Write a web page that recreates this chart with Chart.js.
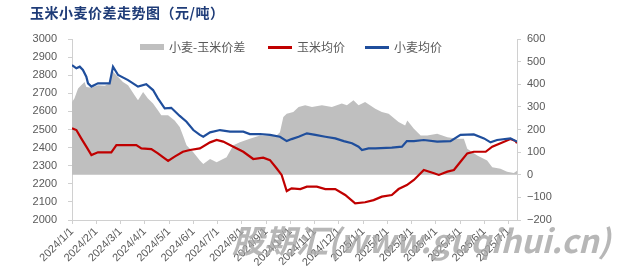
<!DOCTYPE html>
<html>
<head>
<meta charset="utf-8">
<script src="https://cdn.jsdelivr.net/npm/chart.js@4"></script>
<style>
  body { margin: 0; background: #fff; }
  #wrap { position: relative; width: 632px; height: 270px; }
  #title { position: absolute; left: 30px; top: 2px; font: bold 14px "Noto Sans CJK SC"; color: #1f3c78; letter-spacing: 0.5px; }
  .lg { position: absolute; top: 38px; font: 12px "Noto Sans CJK SC"; color: #595959; white-space: nowrap; }
  .sw { position: absolute; }
  #mark { position: absolute; left: 232px; top: 216px; font: italic bold 32px "Noto Sans CJK SC", "Liberation Sans"; color: rgba(165,165,165,0.8); white-space: nowrap; pointer-events: none; }
</style>
</head>
<body>
<div id="wrap">
  <canvas id="chart" width="632" height="270"></canvas>
  <div id="title">玉米小麦价差走势图（元/吨）</div>
  <div id="legend"></div>
  <div id="mark">股期汇(www.guqihui.cn)</div>
</div>
<script>
// x positions are months since 2024/1/1
const xLabels = ['2024/1/1', '2024/2/1', '2024/3/1', '2024/4/1', '2024/5/1', '2024/6/1', '2024/7/1',
  '2024/8/1', '2024/9/1', '2024/10/1', '2024/11/1', '2024/12/1', '2025/1/1', '2025/2/1',
  '2025/3/1', '2025/4/1', '2025/5/1', '2025/6/1', '2025/7/1'];

const wheatT = [0, 0.18, 0.32, 0.45, 0.59, 0.66, 0.8, 1.07, 1.55, 1.69, 1.9, 2.31, 2.72, 3.06, 3.34, 3.54,
  3.82, 4.09, 4.44, 4.72, 5.0, 5.27, 5.41, 5.69, 6.1, 6.51, 7.06, 7.33, 7.75, 8.16, 8.57, 8.85, 9.05,
  9.34, 9.68, 10.03, 10.44, 10.85, 11.2, 11.54, 11.81, 11.95, 12.22, 12.5, 13.18, 13.6, 13.8, 14.09,
  14.5, 15.05, 15.6, 16.01, 16.56, 16.98, 17.25, 17.52, 18.07, 18.34];
const wheatPrice = [2856, 2838, 2847, 2829, 2792, 2755, 2737, 2755, 2755, 2847, 2801, 2773, 2737, 2750, 2718, 2672,
  2617, 2620, 2575, 2543, 2497, 2470, 2460, 2484, 2497, 2488, 2488, 2475, 2475, 2470, 2460, 2436, 2447,
  2460, 2479, 2470, 2460, 2451, 2436, 2424, 2405, 2387, 2396, 2396, 2400, 2405, 2436, 2436,
  2442, 2433, 2436, 2470, 2473, 2451, 2429, 2442, 2451, 2433];

const cornT = [0, 0.18, 0.38, 0.59, 0.8, 1.07, 1.62, 1.83, 2.24, 2.65, 2.86, 3.27, 3.54, 3.96, 4.23, 4.57,
  4.86, 5.27, 5.69, 5.96, 6.23, 6.65, 7.06, 7.47, 7.88, 8.16, 8.43, 8.64, 8.85, 9.05, 9.41, 9.68,
  10.09, 10.44, 10.85, 11.26, 11.67, 12.08, 12.43, 12.77, 13.18, 13.46, 13.8, 14.09, 14.5, 14.92,
  15.12, 15.47, 15.74, 16.01, 16.29, 16.56, 17.05, 17.32, 17.66, 18.07, 18.28, 18.34];
const cornPrice = [2507, 2497, 2451, 2405, 2359, 2374, 2374, 2414, 2414, 2414, 2396, 2392, 2368, 2326, 2350, 2377,
  2387, 2396, 2429, 2442, 2433, 2405, 2377, 2337, 2344, 2331, 2286, 2249, 2160, 2175, 2171, 2184,
  2184, 2171, 2171, 2138, 2092, 2098, 2110, 2129, 2138, 2171, 2193, 2221, 2276, 2258,
  2249, 2267, 2276, 2322, 2368, 2377, 2377, 2405, 2424, 2447, 2436, 2424];

const spreadT = [0, 0.1, 0.25, 0.38, 0.52, 0.59, 0.8, 1.07, 1.35, 1.55, 1.69, 1.83, 2.1, 2.31, 2.58, 2.72,
  2.93, 3.13, 3.34, 3.54, 3.68, 3.96, 4.23, 4.44, 4.57, 4.72, 5.0, 5.27, 5.41, 5.69, 5.96, 6.37,
  6.65, 6.92, 7.33, 7.75, 8.43, 8.57, 8.71, 8.85, 9.12, 9.34, 9.61, 9.89, 10.3, 10.71, 11.12,
  11.33, 11.6, 11.81, 12.08, 12.5, 12.77, 13.05, 13.46, 13.73, 13.82, 14.09, 14.37, 14.64, 15.05,
  15.47, 15.88, 16.15, 16.29, 16.7, 17.11, 17.32, 17.66, 17.93, 18.21, 18.34];
const spreadValue = [322, 337, 381, 396, 410, 388, 384, 396, 393, 403, 455, 440, 410, 396, 351, 329,
  366, 337, 315, 285, 263, 263, 240, 211, 175, 130, 100, 63, 48, 70, 55, 77,
  130, 144, 159, 174, 174, 188, 255, 270, 277, 300, 307, 300, 307, 300, 315,
  307, 329, 307, 322, 292, 277, 270, 233, 218, 240, 203, 174, 174, 181,
  166, 159, 159, 115, 85, 63, 33, 26, 13, 8, 18];

const pairs = (xs, ys) => xs.map((x, i) => ({ x: x, y: ys[i] }));

const seriesNames = ['小麦-玉米价差', '玉米均价', '小麦均价'];
const seriesColors = ['#bfbfbf', '#c00000', '#1f4e9c'];

// legend (drawn as html so it can sit inside the plot area)
const legendPos = [140, 268, 365];
const legend = document.getElementById('legend');
seriesNames.forEach((name, i) => {
  const sw = document.createElement('div');
  sw.className = 'sw';
  sw.style.left = legendPos[i] + 'px';
  sw.style.width = '24px';
  if (i === 0) { sw.style.top = '44px'; sw.style.height = '6px'; }
  else { sw.style.top = '46px'; sw.style.height = '2.5px'; }
  sw.style.background = seriesColors[i];
  legend.appendChild(sw);
  const t = document.createElement('div');
  t.className = 'lg';
  t.style.left = (legendPos[i] + 29) + 'px';
  t.textContent = name;
  legend.appendChild(t);
});

const tickFont = { family: 'Liberation Sans', size: 11 };
const axisGray = '#d0d0d0';

new Chart(document.getElementById('chart'), {
  type: 'line',
  data: {
    datasets: [
      {
        label: seriesNames[0], data: pairs(spreadT, spreadValue), yAxisID: 'y1',
        backgroundColor: seriesColors[0], borderWidth: 0, pointRadius: 0, fill: 'origin', order: 3
      },
      {
        label: seriesNames[1], data: pairs(cornT, cornPrice), yAxisID: 'y',
        borderColor: seriesColors[1], borderWidth: 2.2, pointRadius: 0, fill: false, order: 2
      },
      {
        label: seriesNames[2], data: pairs(wheatT, wheatPrice), yAxisID: 'y',
        borderColor: seriesColors[2], borderWidth: 2.2, pointRadius: 0, fill: false, order: 1
      }
    ]
  },
  options: {
    responsive: false,
    animation: false,
    layout: { padding: { top: 39, left: 0, right: 0, bottom: 0 } },
    plugins: { legend: { display: false }, tooltip: { enabled: false } },
    scales: {
      x: {
        type: 'linear', min: 0, max: 18.34,
        afterBuildTicks: s => { s.ticks = xLabels.map((_, i) => ({ value: i })); },
        afterFit: s => { s.height = 50; },
        ticks: {
          callback: v => xLabels[v], autoSkip: false, minRotation: 45, maxRotation: 45,
          color: '#595959', font: tickFont, padding: 1
        },
        grid: { drawOnChartArea: false, tickLength: 4, color: axisGray },
        border: { color: axisGray }
      },
      y: {
        position: 'left', min: 2000, max: 3000,
        afterFit: s => { s.width = 72; },
        ticks: { stepSize: 100, color: '#595959', font: tickFont, padding: 11, callback: v => String(v) },
        grid: { drawOnChartArea: false, tickLength: 4, color: axisGray },
        border: { color: axisGray }
      },
      y1: {
        position: 'right', min: -200, max: 600,
        afterFit: s => { s.width = 115; },
        ticks: {
          stepSize: 100, color: '#595959', font: tickFont, padding: 6,
          callback: v => v < 0 ? '\u2212' + Math.abs(v) : String(v)
        },
        grid: { drawOnChartArea: false, tickLength: 4, color: axisGray },
        border: { color: axisGray }
      }
    }
  }
});
</script>
</body>
</html>
